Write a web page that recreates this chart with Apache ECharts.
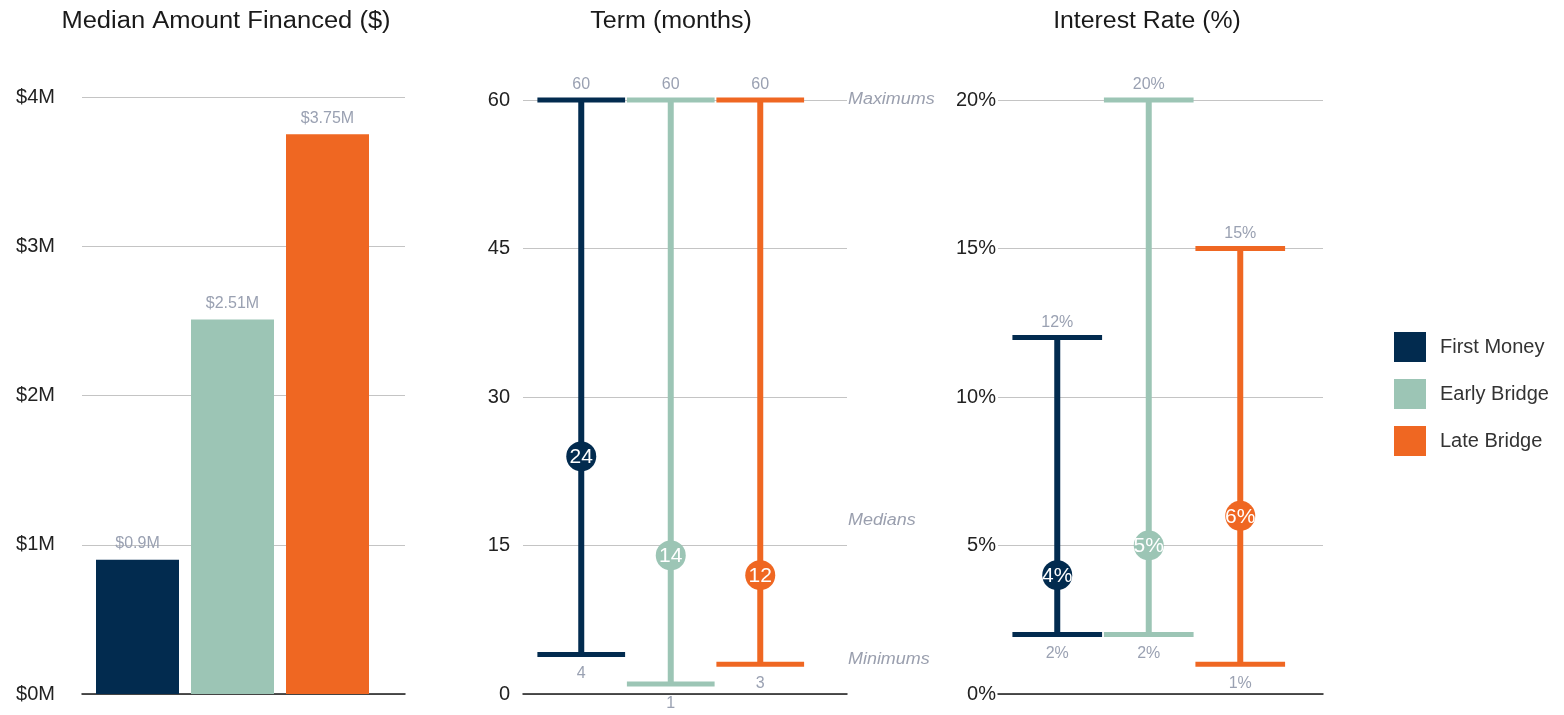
<!DOCTYPE html>
<html>
<head>
<meta charset="utf-8">
<script src="https://cdn.jsdelivr.net/npm/echarts@6/dist/echarts.min.js"></script>
<style>
  html, body { margin: 0; padding: 0; background: #fff; }
  #chart { width: 1564px; height: 715px; }
</style>
</head>
<body>
<div id="chart"></div>
<script>
// Financing terms by stage
const categories = ['First Money', 'Early Bridge', 'Late Bridge'];
const colors = ['#022b4f', '#9cc5b5', '#ef6722'];

// Median amount financed, $M
const amountFinanced = [0.9, 2.51, 3.75];
const amountTicks = [0, 1, 2, 3, 4];

// Term, months
const termMax = [60, 60, 60];
const termMin = [4, 1, 3];
const termMedian = [24, 14, 12];
const termTicks = [0, 15, 30, 45, 60];

// Interest rate, %
const rateMax = [12, 20, 15];
const rateMin = [2, 2, 1];
const rateMedian = [4, 5, 6];
const rateTicks = [0, 5, 10, 15, 20];

const FONT = 'Liberation Sans, Arial, Helvetica, sans-serif';
const LABEL_GRAY = '#9aa1b2';
const AXIS_TEXT = '#222';

// Panel geometry: an outer grid carries the axis and gridlines,
// an inner grid (same vertical extent) carries the marks.
const panels = [
  { outerLeft: 82,  outerWidth: 323, innerLeft: 90,    innerWidth: 285,   top: 97,  height: 597 },
  { outerLeft: 523, outerWidth: 324, innerLeft: 536.5, innerWidth: 268.5, top: 100, height: 594 },
  { outerLeft: 998, outerWidth: 325, innerLeft: 1011.5, innerWidth: 274.5, top: 100, height: 594 }
];

const grids = [];
panels.forEach(p => {
  grids.push({ left: p.outerLeft, width: p.outerWidth, top: p.top, height: p.height, containLabel: false });
  grids.push({ left: p.innerLeft, width: p.innerWidth, top: p.top, height: p.height, containLabel: false });
});

function outerX(gridIndex) {
  return {
    type: 'category', gridIndex, data: [''],
    axisLine: { show: true, lineStyle: { color: '#1a1a1a', width: 1.5 } },
    axisTick: { show: false }, axisLabel: { show: false }, splitLine: { show: false }
  };
}
function innerX(gridIndex) {
  return {
    type: 'category', gridIndex, data: categories,
    axisLine: { show: false }, axisTick: { show: false }, axisLabel: { show: false }, splitLine: { show: false }
  };
}
function outerY(gridIndex, ticks, fmt, margin) {
  return {
    type: 'value', gridIndex,
    min: ticks[0], max: ticks[ticks.length - 1], interval: ticks[1] - ticks[0],
    axisLine: { show: false }, axisTick: { show: false },
    axisLabel: { color: AXIS_TEXT, fontSize: 20, fontFamily: FONT, margin, formatter: fmt },
    splitLine: { show: true, lineStyle: { color: '#c4c4c4', width: 1 } }
  };
}
function innerY(gridIndex, ticks) {
  return {
    type: 'value', gridIndex,
    min: ticks[0], max: ticks[ticks.length - 1],
    show: false, splitLine: { show: false }
  };
}

const xAxes = [outerX(0), innerX(1), outerX(2), innerX(3), outerX(4), innerX(5)];
const yAxes = [
  outerY(0, amountTicks, v => '$' + v + 'M', 27), innerY(1, amountTicks),
  outerY(2, termTicks, v => String(v), 13), innerY(3, termTicks),
  outerY(4, rateTicks, v => v + '%', 2), innerY(5, rateTicks)
];

// Bars: one series per stage so the legend picks up each colour
const barSeries = categories.map((name, i) => ({
  name, type: 'bar', xAxisIndex: 1, yAxisIndex: 1, stack: 'amount',
  barWidth: 83,
  itemStyle: { color: colors[i] },
  data: categories.map((c, j) => (j === i ? amountFinanced[i] : '-')),
  label: {
    show: true, position: 'top', distance: 8,
    color: LABEL_GRAY, fontSize: 16, fontFamily: FONT,
    formatter: p => '$' + p.value + 'M'
  }
}));

// Range marks: vertical stem, caps at min/max, median bubble
function rangeRenderer(fmt) {
  return function (params, api) {
    const i = api.value(0);
    const x = api.coord([i, 0])[0];
    const yMax = api.coord([i, api.value(1)])[1];
    const yMin = api.coord([i, api.value(2)])[1];
    const yMed = api.coord([i, api.value(3)])[1];
    const half = api.size([1, 0])[0] * 0.49;
    const color = colors[i];
    return {
      type: 'group',
      children: [
        { type: 'rect', shape: { x: x - 3, y: yMax, width: 6, height: yMin - yMax }, style: { fill: color } },
        { type: 'rect', shape: { x: x - half, y: yMax - 2.5, width: 2 * half, height: 5 }, style: { fill: color } },
        { type: 'rect', shape: { x: x - half, y: yMin - 2.5, width: 2 * half, height: 5 }, style: { fill: color } },
        { type: 'circle', shape: { cx: x, cy: yMed, r: 15 }, style: { fill: color } },
        { type: 'text', style: { text: fmt(api.value(3)), x: x, y: yMed + 1, align: 'center', verticalAlign: 'middle',
            fill: '#fff', fontSize: 21, fontFamily: FONT } },
        { type: 'text', style: { text: fmt(api.value(1)), x: x, y: yMax - 15, align: 'center', verticalAlign: 'middle',
            fill: LABEL_GRAY, fontSize: 16, fontFamily: FONT } },
        { type: 'text', style: { text: fmt(api.value(2)), x: x, y: yMin + 19, align: 'center', verticalAlign: 'middle',
            fill: LABEL_GRAY, fontSize: 16, fontFamily: FONT } }
      ]
    };
  };
}

const termData = categories.map((c, i) => [i, termMax[i], termMin[i], termMedian[i]]);
const rateData = categories.map((c, i) => [i, rateMax[i], rateMin[i], rateMedian[i]]);

const rangeSeries = [
  { type: 'custom', xAxisIndex: 3, yAxisIndex: 3, renderItem: rangeRenderer(v => String(v)),
    encode: { x: 0, y: [1, 2, 3] }, data: termData, silent: true },
  { type: 'custom', xAxisIndex: 5, yAxisIndex: 5, renderItem: rangeRenderer(v => v + '%'),
    encode: { x: 0, y: [1, 2, 3] }, data: rateData, silent: true }
];

function titleText(text, x, sx) {
  return { type: 'text', x, y: 22, scaleX: sx, style: { text, align: 'center', verticalAlign: 'middle',
    fill: '#1a1a1a', fontSize: 23, fontFamily: FONT } };
}
function sideNote(text, y) {
  return { type: 'text', x: 848, y, scaleX: 1.12, style: { text, align: 'left', verticalAlign: 'middle',
    fill: '#9a9fae', fontSize: 16, fontStyle: 'italic', fontFamily: FONT } };
}

const option = {
  animation: false,
  backgroundColor: '#fff',
  grid: grids,
  xAxis: xAxes,
  yAxis: yAxes,
  legend: {
    data: categories,
    orient: 'vertical',
    left: 1394, top: 332,
    padding: 0,
    itemWidth: 32, itemHeight: 30, itemGap: 17,
    icon: 'rect',
    selectedMode: false,
    textStyle: { color: '#333', fontSize: 20, fontFamily: FONT, padding: [0, 0, 0, 9] }
  },
  graphic: [
    titleText('Median Amount Financed ($)', 226, 1.11),
    titleText('Term (months)', 671, 1.09),
    titleText('Interest Rate (%)', 1147, 1.08),
    sideNote('Maximums', 100),
    sideNote('Medians', 521),
    sideNote('Minimums', 660)
  ],
  series: barSeries.concat(rangeSeries)
};

const chart = echarts.init(document.getElementById('chart'), null, { renderer: 'canvas' });
chart.setOption(option);
</script>
</body>
</html>
